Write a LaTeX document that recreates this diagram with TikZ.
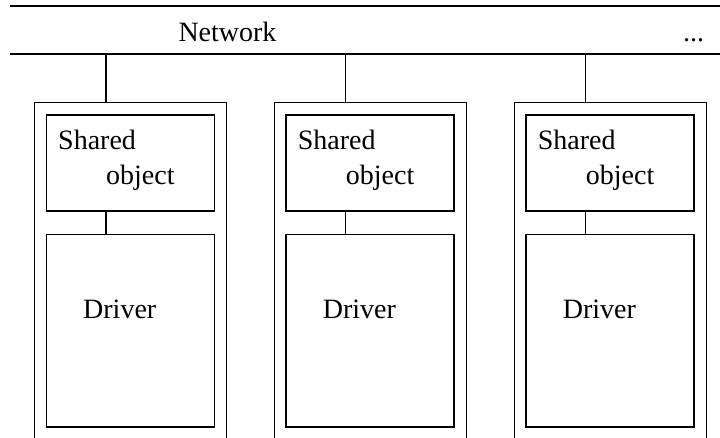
\documentclass[tikz,border=0pt]{standalone}
\usepackage{fontspec}
\setmainfont{Liberation Serif}
\begin{document}
\begin{tikzpicture}[x=1pt,y=-1pt]
\tikzset{
  wire/.style={line width=1.3pt},
  box/.style={draw, line width=1.3pt, rectangle, inner sep=0pt, anchor=north west},
  lbl/.style={inner sep=0pt, anchor=base west, font=\fontsize{28}{34}\selectfont},
}
\useasboundingbox (0,0) rectangle (720,438);

% network bus
\coordinate (busTL) at (10,6);
\coordinate (busTR) at (720,6);
\coordinate (busBL) at (10,54);
\coordinate (busBR) at (720,54);
\draw[wire] (busTL) -- (busTR);
\draw[wire] (busBL) -- (busBR);
\node[lbl] (nettext) at (178.3,41.7) {Network};
\node[lbl] (more) at (683,41.7) {...};

% one station per column
\foreach \i/\L in {1/34,2/273.7,3/513.7} {
  \node[box, minimum width=192pt, minimum height=337pt] (outer\i) at (\L,102) {};
  \node[box, minimum width=168pt, minimum height=96pt] (obj\i) at (\L+11.7,114.3) {};
  \node[box, minimum width=168pt, minimum height=192.3pt] (drv\i) at (\L+11.7,234) {};
  \node[lbl] (objA\i) at (\L+24,150) {Shared};
  \node[lbl] (objB\i) at (\L+72,185) {object};
  \node[lbl] (drvT\i) at (\L+49,318.3) {Driver};
  \coordinate (tap\i) at (\L+72,54);
  \draw[wire] (tap\i) -- (tap\i |- outer\i.north);
  \draw[wire] (tap\i |- obj\i.south) -- (tap\i |- drv\i.north);
}
\end{tikzpicture}
\end{document}
